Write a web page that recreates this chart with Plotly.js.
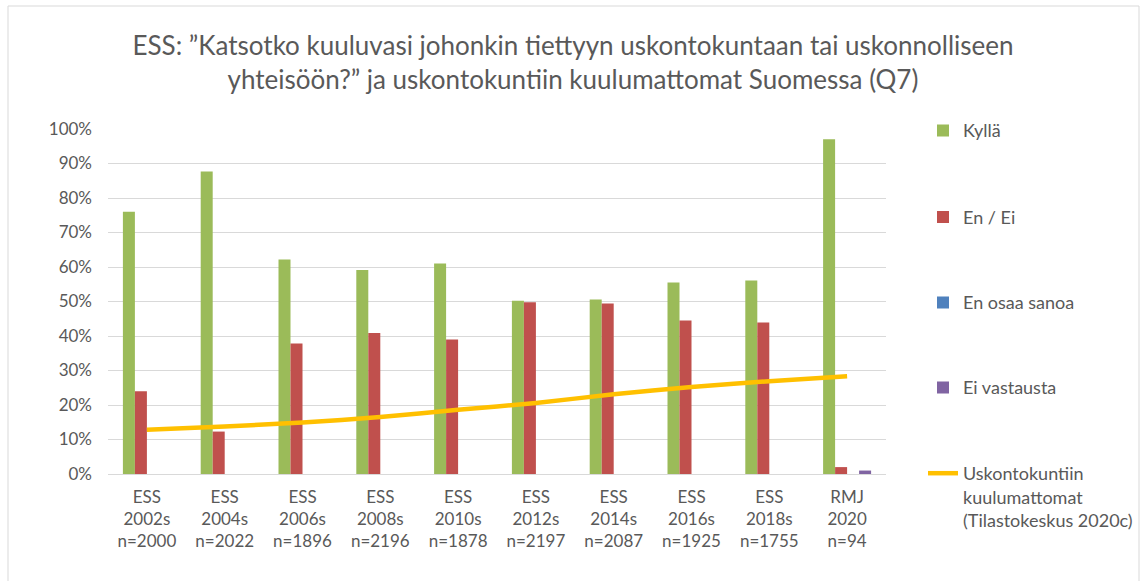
<!DOCTYPE html>
<html>
<head>
<meta charset="utf-8">
<script src="https://cdn.plot.ly/plotly-3.0.1.min.js"></script>
<style>html,body{margin:0;padding:0;background:#fff;}#chart{width:1146px;height:581px;}</style>
</head>
<body>
<div id="chart"></div>
<script>
const categories = [
  "ESS<br>2002s<br>n=2000", "ESS<br>2004s<br>n=2022", "ESS<br>2006s<br>n=1896",
  "ESS<br>2008s<br>n=2196", "ESS<br>2010s<br>n=1878", "ESS<br>2012s<br>n=2197",
  "ESS<br>2014s<br>n=2087", "ESS<br>2016s<br>n=1925", "ESS<br>2018s<br>n=1755",
  "RMJ<br>2020<br>n=94"
];
const kylla        = [76.0, 87.7, 62.2, 59.1, 61.0, 50.2, 50.6, 55.5, 56.1, 97.0];
const enEi         = [24.0, 12.3, 37.8, 40.9, 39.0, 49.8, 49.4, 44.5, 43.9, 2.0];
const enOsaaSanoa  = [0, 0, 0, 0, 0, 0, 0, 0, 0, 0];
const eiVastausta  = [0, 0, 0, 0, 0, 0, 0, 0, 0, 1.0];
const kuulumattomat = [12.8, 13.8, 14.9, 16.5, 18.6, 20.6, 23.1, 25.2, 26.9, 28.3];

const FONT = "Lato, 'Open Sans', sans-serif";
const GREY = "#595959";

const traces = [
  {type:"bar", name:"Kyllä", x:categories, y:kylla, marker:{color:"#9BBB59"}, legend:"legend"},
  {type:"bar", name:"En / Ei", x:categories, y:enEi, marker:{color:"#C0504D"}, legend:"legend2"},
  {type:"bar", name:"En osaa sanoa", x:categories, y:enOsaaSanoa, marker:{color:"#4F81BD"}, legend:"legend3"},
  {type:"bar", name:"Ei vastausta", x:categories, y:eiVastausta, marker:{color:"#8064A2"}, legend:"legend4"},
  {type:"scatter", mode:"lines", name:"Uskontokuntiin<br>kuulumattomat<br>(Tilastokeskus 2020c)",
   x:categories, y:kuulumattomat, line:{color:"#FFC000", width:4.5, shape:"spline", smoothing:0.6}, legend:"legend5"}
];

const L = 108, R = 260, T = 129, B = 107;
const H = 581 - T - B, W = 1146 - L - R;
function py(p){ return (581 - B - p) / H; }
function px(p){ return (p - L) / W; }
const legX = px(923);
function leg(yPix, anchor, valign){
  return {x:legX, xanchor:"left", y:py(yPix), yanchor:anchor||"middle", valign:valign||"middle",
          font:{family:FONT, size:18, color:GREY}, bgcolor:"rgba(0,0,0,0)", borderwidth:0};
}

const layout = {
  width:1146, height:581,
  margin:{l:L, r:R, t:T, b:B, pad:0, autoexpand:false},
  paper_bgcolor:"#fff", plot_bgcolor:"#fff",
  font:{family:FONT, size:17, color:GREY},
  title:{text:"ESS: ”Katsotko kuuluvasi johonkin tiettyyn uskontokuntaan tai uskonnolliseen<br>yhteisöön?” ja uskontokuntiin kuulumattomat Suomessa (Q7)",
         font:{family:FONT, size:26, color:GREY}, x:0.5, xref:"container", xanchor:"center",
         y:1-55/581, yref:"container", yanchor:"middle"},
  barmode:"group", bargap:0.383, bargroupgap:0,
  xaxis:{type:"category", showgrid:false, showline:false, zeroline:false, ticks:"",
         tickfont:{family:FONT, size:17, color:GREY}, ticklabelstandoff:11, fixedrange:true},
  yaxis:{range:[0,100], dtick:10, ticksuffix:"%", showgrid:true, gridcolor:"#D9D9D9", gridwidth:1,
         zeroline:true, zerolinecolor:"#D9D9D9", zerolinewidth:1, showline:false, ticks:"",
         tickfont:{family:FONT, size:17, color:GREY}, ticklabelstandoff:15, fixedrange:true},
  showlegend:true,
  legend: leg(130.7),
  legend2: leg(217.3),
  legend3: leg(302.7),
  legend4: leg(387.7),
  legend5: leg(455, "top", "top"),
  shapes:[{type:"rect", xref:"paper", yref:"paper", x0:px(8), x1:px(1139), y0:py(6), y1:py(595),
           line:{color:"#D9D9D9", width:1}, fillcolor:"rgba(0,0,0,0)", layer:"below"}]
};

Plotly.newPlot("chart", traces, layout, {displayModeBar:false, staticPlot:true});
</script>
</body>
</html>
